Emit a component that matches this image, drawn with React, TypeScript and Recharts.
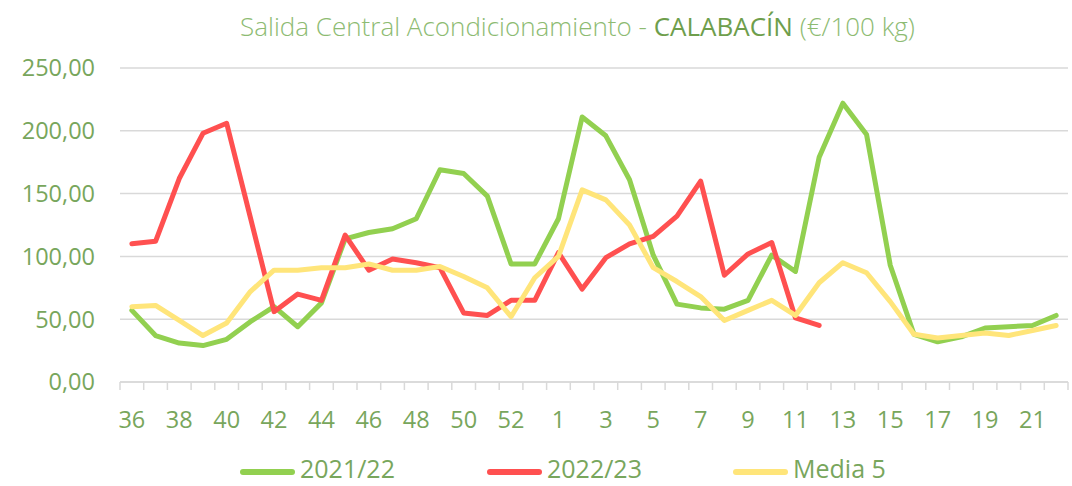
import { LineChart, Line, XAxis, YAxis, CartesianGrid } from "recharts"

// semanas de campaña (36..53, 1..22)
const weeks = [
  36, 37, 38, 39, 40, 41, 42, 43, 44, 45, 46, 47, 48, 49, 50, 51, 52, 53,
  1, 2, 3, 4, 5, 6, 7, 8, 9, 10, 11, 12, 13, 14, 15, 16, 17, 18, 19, 20, 21, 22,
]

const campana2122 = [
  57, 37, 31, 29, 34, 48, 60, 44, 63, 114, 119, 122, 130, 169, 166, 148, 94, 94,
  130, 211, 196, 161, 101, 62, 59, 58, 65, 101, 88, 179, 222, 197, 93, 38, 32, 36, 43, 44, 45, 53,
]

const campana2223: (number | null)[] = [
  110, 112, 162, 198, 206, 131, 56, 70, 65, 117, 89, 98, 95, 91, 55, 53, 65, 65,
  103, 74, 99, 110, 116, 132, 160, 85, 102, 111, 51, 45,
  null, null, null, null, null, null, null, null, null, null,
]

const media5 = [
  60, 61, 49, 37, 47, 72, 89, 89, 91, 91, 94, 89, 89, 92, 84, 75, 52, 83,
  100, 153, 145, 125, 91, 80, 68, 49, 57, 65, 53, 79, 95, 87, 64, 38, 35, 37, 39, 37, 41, 45,
]

const yTicks = [0, 50, 100, 150, 200, 250]

const series = [
  { key: "c2122", name: "2021/22", color: "#92D050", left: 240 },
  { key: "c2223", name: "2022/23", color: "#FF5050", left: 487 },
  { key: "media", name: "Media 5", color: "#FFE57A", left: 733 },
]

const W = 1072
const H = 486
const MARGIN = { top: 68, right: 4, left: 0, bottom: 0 }
const Y_W = 120
const X_H = 104
const PLOT_W = W - MARGIN.left - MARGIN.right - Y_W
const HALF = PLOT_W / weeks.length / 2
const TXT = "#78A65C"
const GRID = "#D9D9D9"
const FONT = "'Open Sans', sans-serif"

const data = weeks.map((w, i) => ({
  week: String(w),
  c2122: campana2122[i],
  c2223: campana2223[i],
  media: media5[i],
}))

const fmt = (v: number) => v.toFixed(2).replace(".", ",")

function XTick(props: any) {
  const { x, y, payload, index } = props
  const last = index === weeks.length - 1
  return (
    <g>
      <line x1={x - HALF} x2={x - HALF} y1={y} y2={y + 8} stroke={GRID} strokeWidth={1.5} />
      {last && <line x1={x + HALF} x2={x + HALF} y1={y} y2={y + 8} stroke={GRID} strokeWidth={1.5} />}
      {index % 2 === 0 && (
        <text x={x} y={y + 37} textAnchor="middle" dominantBaseline="central" fill={TXT} fontSize={23.5} fontFamily={FONT}>
          {payload.value}
        </text>
      )}
    </g>
  )
}

export default function App() {
  return (
    <div style={{ position: "absolute", left: 0, top: 0, width: W, height: H, background: "#fff", fontFamily: FONT }}>
      <div
        style={{
          position: "absolute",
          top: 8,
          left: 0,
          width: 1155,
          textAlign: "center",
          fontSize: 26,
          fontWeight: 300,
          color: "#8DBB72",
          whiteSpace: "nowrap",
        }}
      >
        Salida Central Acondicionamiento - <span style={{ color: "#6E9E4C", fontWeight: 400 }}>CALABACÍN</span> (€/100 kg)
      </div>
      <LineChart width={W} height={H} data={data} margin={MARGIN}>
        <CartesianGrid vertical={false} stroke={GRID} strokeWidth={1.5} />
        <XAxis
          dataKey="week"
          interval={0}
          height={X_H}
          padding={{ left: HALF, right: HALF }}
          tick={<XTick />}
          tickLine={false}
          tickSize={0}
          tickMargin={0}
          axisLine={{ stroke: GRID, strokeWidth: 1.5 }}
        />
        <YAxis
          width={Y_W}
          domain={[0, 250]}
          ticks={yTicks}
          tickFormatter={fmt}
          axisLine={false}
          tickLine={false}
          tickSize={6}
          tickMargin={19}
          tick={{ fill: TXT, fontSize: 23.5, fontFamily: FONT }}
        />
        {series.map((s) => (
          <Line
            key={s.key}
            dataKey={s.key}
            name={s.name}
            stroke={s.color}
            strokeWidth={5}
            strokeLinejoin="round"
            strokeLinecap="round"
            dot={false}
            activeDot={false}
            connectNulls={false}
            isAnimationActive={false}
          />
        ))}
      </LineChart>
      {series.map((s) => (
        <div
          key={s.key}
          style={{ position: "absolute", top: 451, left: s.left, display: "flex", alignItems: "flex-start", gap: 5 }}
        >
          <div style={{ width: 55, height: 5.5, marginTop: 18, borderRadius: 3, background: s.color }} />
          <span style={{ color: TXT, fontSize: 25, lineHeight: "normal" }}>{s.name}</span>
        </div>
      ))}
    </div>
  )
}
